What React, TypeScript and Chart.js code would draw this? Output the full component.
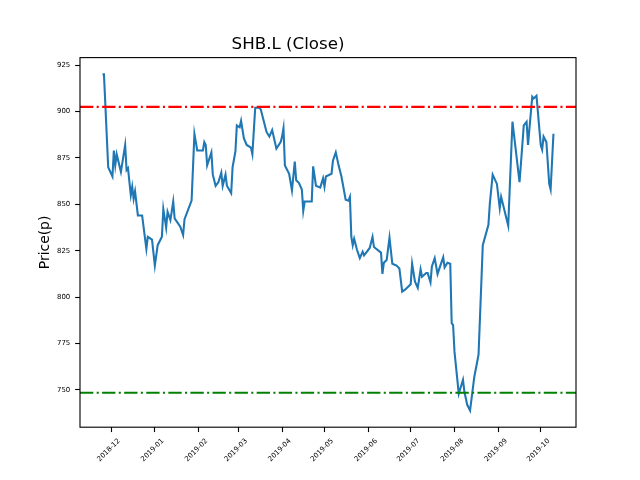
import React, { useEffect, useRef } from "react";
import { Chart, registerables } from "chart.js";

Chart.register(...registerables);

const titleText = "SHB.L (Close)";
const yLabel = "Price(p)";

const dates = [
  "2018-11-25", "2018-11-26", "2018-11-29", "2018-12-02", "2018-12-03", "2018-12-04", "2018-12-05", "2018-12-08",
  "2018-12-11", "2018-12-12", "2018-12-13", "2018-12-15", "2018-12-16", "2018-12-17", "2018-12-18", "2018-12-20",
  "2018-12-23", "2018-12-26", "2018-12-27", "2018-12-30", "2019-01-01", "2019-01-03", "2019-01-06", "2019-01-07",
  "2019-01-09", "2019-01-10", "2019-01-12", "2019-01-14", "2019-01-15", "2019-01-19", "2019-01-21", "2019-01-22",
  "2019-01-27", "2019-01-29", "2019-01-31", "2019-02-04", "2019-02-05", "2019-02-06", "2019-02-07", "2019-02-10",
  "2019-02-11", "2019-02-13", "2019-02-15", "2019-02-17", "2019-02-18", "2019-02-20", "2019-02-21", "2019-02-24",
  "2019-02-25", "2019-02-27", "2019-02-28", "2019-03-02", "2019-03-03", "2019-03-05", "2019-03-07", "2019-03-10",
  "2019-03-11", "2019-03-13", "2019-03-16", "2019-03-17", "2019-03-18", "2019-03-21", "2019-03-23", "2019-03-25",
  "2019-03-28", "2019-03-31", "2019-04-01", "2019-04-02", "2019-04-03", "2019-04-06", "2019-04-08", "2019-04-10",
  "2019-04-11", "2019-04-13", "2019-04-15", "2019-04-16", "2019-04-17", "2019-04-22", "2019-04-23", "2019-04-25",
  "2019-04-28", "2019-04-30", "2019-05-01", "2019-05-02", "2019-05-06", "2019-05-07", "2019-05-09", "2019-05-11",
  "2019-05-13", "2019-05-16", "2019-05-18", "2019-05-19", "2019-05-20", "2019-05-21", "2019-05-22", "2019-05-24",
  "2019-05-26", "2019-05-28", "2019-05-29", "2019-06-02", "2019-06-04", "2019-06-05", "2019-06-10", "2019-06-11",
  "2019-06-12", "2019-06-14", "2019-06-16", "2019-06-18", "2019-06-21", "2019-06-23", "2019-06-25", "2019-06-27",
  "2019-07-01", "2019-07-02", "2019-07-04", "2019-07-06", "2019-07-08", "2019-07-09", "2019-07-12", "2019-07-13",
  "2019-07-15", "2019-07-16", "2019-07-18", "2019-07-20", "2019-07-24", "2019-07-25", "2019-07-27", "2019-07-29",
  "2019-07-30", "2019-07-31", "2019-08-01", "2019-08-04", "2019-08-07", "2019-08-08", "2019-08-10", "2019-08-12",
  "2019-08-15", "2019-08-18", "2019-08-21", "2019-08-25", "2019-08-26", "2019-08-28", "2019-08-31", "2019-09-02",
  "2019-09-03", "2019-09-08", "2019-09-11", "2019-09-16", "2019-09-17", "2019-09-19", "2019-09-21", "2019-09-22",
  "2019-09-25", "2019-09-26", "2019-09-28", "2019-10-01", "2019-10-02", "2019-10-03", "2019-10-05", "2019-10-07",
  "2019-10-08", "2019-10-10",
];

const closes = [
  920, 920, 870, 865, 879, 871, 877, 867.5,
  882, 868.5, 869.5, 855, 859.5, 853, 857, 844,
  844, 826, 832.5, 831, 817, 828, 832.5, 847.5,
  837.5, 846, 841.5, 851.5, 842.5, 838, 833.5, 842,
  852, 888, 879, 879, 883.5, 882, 871, 878,
  866, 860, 862, 867, 860, 866, 860, 856,
  870, 878.5, 892.5, 891.5, 895, 885.5, 882, 880.5,
  877, 902, 902, 901, 898, 889, 886.5, 890,
  880, 883.5, 886.5, 891, 871, 866.5, 857.5, 873,
  863, 861.5, 858, 846.5, 851.5, 851.5, 870.5, 860,
  859, 864, 859.5, 865, 866.5, 873.5, 878, 871,
  865, 852.5, 852, 854, 832.5, 828, 831.5, 825.5,
  821, 824.5, 822.5, 826.5, 832.5, 827, 824, 812.5,
  818.5, 820, 832, 818, 817, 815.5, 803, 804,
  807, 818, 808.5, 805, 815, 811, 813, 813,
  808, 816.5, 821, 812.5, 821.5, 816, 818.5, 818,
  786, 785, 770.5, 748, 755.5, 749, 742, 739,
  757, 769, 828, 839, 850.5, 866, 861, 848,
  854, 838.5, 894.5, 862, 872, 892.5, 894.5, 882,
  908, 907, 908.5, 882, 879.5, 886.5, 883.5, 861,
  858, 888,
];

const upperLevel = 902.5;
const lowerLevel = 748.5;

const monthTicks = [
  "2018-12", "2019-01", "2019-02", "2019-03", "2019-04", "2019-05",
  "2019-06", "2019-07", "2019-08", "2019-09", "2019-10",
];
const priceTicks = [750, 775, 800, 825, 850, 875, 900, 925];

const toDay = (s: string): number => {
  const [y, m, d] = s.split("-").map(Number);
  return Date.UTC(y, m - 1, d || 1) / 86400000;
};

const PT = 100 / 72;
const FONT = "DejaVu Sans";

export default function App() {
  const ref = useRef<HTMLCanvasElement | null>(null);

  useEffect(() => {
    const canvas = ref.current;
    if (!canvas) return;

    const xs = dates.map(toDay);
    const xLo = Math.min(...xs);
    const xHi = Math.max(...xs);
    const yLo = Math.min(...closes);
    const yHi = Math.max(...closes);
    const xMin = xLo - 0.05 * (xHi - xLo);
    const xMax = xHi + 0.05 * (xHi - xLo);
    const yMin = yLo - 0.05 * (yHi - yLo);
    const yMax = yHi + 0.05 * (yHi - yLo);

    const tickVals = monthTicks.map(toDay);

    const framePlugin = {
      id: "frame",
      afterDraw(chart: any) {
        const { ctx, chartArea } = chart;
        ctx.save();
        ctx.strokeStyle = "#000";
        ctx.lineWidth = 0.8 * PT;
        ctx.strokeRect(chartArea.left, chartArea.top, chartArea.right - chartArea.left, chartArea.bottom - chartArea.top);
        ctx.restore();
      },
    };

    const dashDot = [6.4 * 1.5 * PT, 1.6 * 1.5 * PT, 1.0 * 1.5 * PT, 1.6 * 1.5 * PT];

    const chart = new Chart(canvas, {
      type: "line",
      data: {
        datasets: [
          {
            data: [{ x: xMin, y: upperLevel }, { x: xMax, y: upperLevel }],
            borderColor: "#ff0000",
            borderWidth: 1.5 * PT,
            borderDash: dashDot,
            pointRadius: 0,
          },
          {
            data: [{ x: xMin, y: lowerLevel }, { x: xMax, y: lowerLevel }],
            borderColor: "#008000",
            borderWidth: 1.5 * PT,
            borderDash: dashDot,
            pointRadius: 0,
          },
          {
            data: xs.map((x, i) => ({ x, y: closes[i] })),
            borderColor: "#1f77b4",
            borderWidth: 1.5 * PT,
            pointRadius: 0,
            tension: 0,
          },
        ],
      },
      options: {
        responsive: false,
        animation: false,
        devicePixelRatio: 1,
        layout: { padding: { left: 0, right: 64, top: 0, bottom: 0 } },
        plugins: {
          legend: { display: false },
          tooltip: { enabled: false },
          title: {
            display: true,
            text: titleText,
            color: "#000",
            font: { family: FONT, size: 12 * PT, weight: "normal", lineHeight: 1.2 },
            padding: { top: 35, bottom: 2.6 },
          },
        },
        scales: {
          x: {
            type: "linear",
            min: xMin,
            max: xMax,
            afterBuildTicks: (scale: any) => {
              scale.ticks = tickVals.map((v) => ({ value: v }));
            },
            afterFit: (scale: any) => {
              scale.height = 52.8;
            },
            grid: {
              display: true,
              drawOnChartArea: false,
              drawTicks: true,
              tickLength: 3.5 * PT,
              tickWidth: 0.8 * PT,
              tickColor: "#000",
            },
            border: { display: false },
            ticks: {
              autoSkip: false,
              maxRotation: 45,
              minRotation: 45,
              padding: 3.5 * PT,
              labelOffset: 8,
              color: "#000",
              font: { family: FONT, size: 5 * PT },
              callback: (_v: any, i: number) => monthTicks[i],
            },
          },
          y: {
            type: "linear",
            min: yMin,
            max: yMax,
            afterBuildTicks: (scale: any) => {
              scale.ticks = priceTicks.map((v) => ({ value: v }));
            },
            afterFit: (scale: any) => {
              scale.width = 80;
            },
            grid: {
              display: true,
              drawOnChartArea: false,
              drawTicks: true,
              tickLength: 3.5 * PT,
              tickWidth: 0.8 * PT,
              tickColor: "#000",
            },
            border: { display: false },
            title: {
              display: true,
              text: yLabel,
              color: "#000",
              font: { family: FONT, size: 10 * PT, lineHeight: 1.2 },
              padding: { top: 36.7, bottom: 0 },
            },
            ticks: {
              padding: 3.5 * PT,
              color: "#000",
              font: { family: FONT, size: 5 * PT },
              callback: (v: any) => String(v),
            },
          },
        },
      },
      plugins: [framePlugin],
    } as any);

    return () => chart.destroy();
  }, []);

  return (
    <div style={{ position: "fixed", left: 0, top: 0, width: 640, height: 480, background: "#fff" }}>
      <canvas ref={ref} width={640} height={480} style={{ display: "block" }} />
    </div>
  );
}
